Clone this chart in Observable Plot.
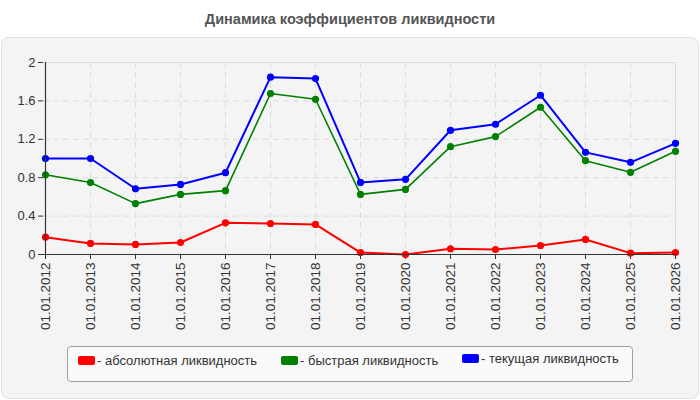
<!DOCTYPE html>
<html>
<head>
<meta charset="utf-8">
<script src="https://cdn.jsdelivr.net/npm/d3@7"></script>
<script src="https://cdn.jsdelivr.net/npm/@observablehq/plot@0.6"></script>
<style>
  html, body { margin: 0; padding: 0; background: #ffffff; }
  body { font-family: "Liberation Sans", Arial, sans-serif; }
  #wrap { position: relative; width: 700px; height: 400px; overflow: hidden; }
  #title { position: absolute; top: 11px; left: 0; width: 700px; text-align: center;
    font-size: 14.5px; font-weight: bold; color: #555; }
  #panel { position: absolute; left: 1px; top: 37px; width: 696px; height: 360px;
    background: #f4f4f4; border: 1px solid #e2e2e2; border-radius: 7px; }
  #chart { position: absolute; left: 0; top: 37px; }
  #legend { position: absolute; left: 67px; top: 346px; width: 566px; height: 36px;
    background: #fafafa; border: 1px solid #a0a0a0; border-radius: 4px; box-sizing: border-box;
    font-size: 13px; color: #333; }
  .item { position: absolute; top: 6px; white-space: nowrap; }
  .sw { display: inline-block; width: 17px; height: 9px; border-radius: 2px; vertical-align: 0px; margin-right: 2px; }
</style>
</head>
<body>
<div id="wrap">
  <div id="title">Динамика коэффициентов ликвидности</div>
  <div id="panel"></div>
  <div id="chart"></div>
  <div id="legend"></div>
</div>
<script>
const dates = ["01.01.2012","01.01.2013","01.01.2014","01.01.2015","01.01.2016","01.01.2017","01.01.2018",
  "01.01.2019","01.01.2020","01.01.2021","01.01.2022","01.01.2023","01.01.2024","01.01.2025","01.01.2026"];
const absolute = [0.18, 0.115, 0.105, 0.125, 0.33, 0.323, 0.313, 0.02, 0.0, 0.06, 0.052, 0.094, 0.157, 0.014, 0.021];
const quick    = [0.83, 0.75, 0.53, 0.626, 0.665, 1.677, 1.617, 0.626, 0.678, 1.123, 1.228, 1.534, 0.977, 0.856, 1.075];
const current  = [1.00, 1.00, 0.685, 0.73, 0.852, 1.847, 1.833, 0.751, 0.783, 1.294, 1.357, 1.659, 1.064, 0.96, 1.158];
const seriesNames = ["абсолютная ликвидность", "быстрая ликвидность", "текущая ликвидность"];
const seriesColors = ["#ff0000", "#008000", "#0000ff"];
const yTicks = [0, 0.4, 0.8, 1.2, 1.6, 2];
const hatchBands = [[0, 0.4], [0.8, 1.2], [1.6, 2]];

const toRows = (vals) => vals.map((v, i) => ({date: dates[i], value: v}));
const allSeries = [absolute, quick, current].map(toRows);

const marks = [
  Plot.rectY([0], {x1: dates[0], x2: dates[dates.length - 1], y1: 0, y2: 2, fill: "#fdfdf8"}),
  Plot.rectY(hatchBands, {x1: dates[0], x2: dates[dates.length - 1], y1: d => d[0], y2: d => d[1], fill: "#ffffff", className: "hatchband"}),
  Plot.ruleY(yTicks.slice(1, -1), {stroke: "#dcdcdc", strokeDasharray: "6,4"}),
  Plot.ruleX(dates.slice(1, -1), {stroke: "#dcdcdc", strokeDasharray: "6,4"}),
  Plot.ruleY([2], {stroke: "#dcdcdc"}),
  Plot.ruleX([dates[dates.length - 1]], {stroke: "#dcdcdc"}),
  Plot.axisY({ticks: yTicks, tickSize: 5, tickPadding: 3, fontSize: 13, color: "#333", tickFormat: d => String(d)}),
  Plot.axisX({tickSize: 5, tickPadding: 3, tickRotate: -90, fontSize: 13.5, color: "#333"}),
];
allSeries.forEach((rows, k) => {
  marks.push(Plot.line(rows, {x: "date", y: "value", stroke: seriesColors[k], strokeWidth: k === 1 ? 1.6 : 2}));
  marks.push(Plot.dot(rows, {x: "date", y: "value", fill: seriesColors[k], r: 3.6}));
});
marks.push(Plot.ruleX([dates[0]], {stroke: "#333", strokeWidth: 1.2}));
marks.push(Plot.ruleY([0], {stroke: "#333", strokeWidth: 1.2}));

const chart = Plot.plot({
  width: 700,
  height: 305,
  marginTop: 25,
  marginBottom: 88,
  marginLeft: 43,
  marginRight: 24,
  style: {background: "transparent", fontFamily: "'Liberation Sans', Arial, sans-serif", overflow: "visible"},
  x: {type: "point", domain: dates, padding: 0, label: null},
  y: {domain: [0, 2], label: null},
  marks
});

const ns = "http://www.w3.org/2000/svg";
const defs = document.createElementNS(ns, "defs");
defs.innerHTML = `<pattern id="hatch" patternUnits="userSpaceOnUse" width="4" height="4" patternTransform="rotate(45)">
  <rect width="4" height="4" fill="#ffffff"/>
  <line x1="1" y1="0" x2="1" y2="4" stroke="#e4e4e4" stroke-width="1.6"/>
</pattern>`;
chart.insertBefore(defs, chart.firstChild);
chart.querySelectorAll(".hatchband rect, rect.hatchband, g.hatchband rect").forEach(r => r.setAttribute("fill", "url(#hatch)"));
document.getElementById("chart").appendChild(chart);

const legend = document.getElementById("legend");
const itemX = [10, 213, 394];
seriesNames.forEach((name, k) => {
  const it = document.createElement("div");
  it.className = "item";
  it.style.left = itemX[k] + "px";
  it.style.top = (k === 2 ? 4 : 6) + "px";
  it.innerHTML = `<span class="sw" style="background:${seriesColors[k]}"></span>- ${name}`;
  legend.appendChild(it);
});
</script>
</body>
</html>
